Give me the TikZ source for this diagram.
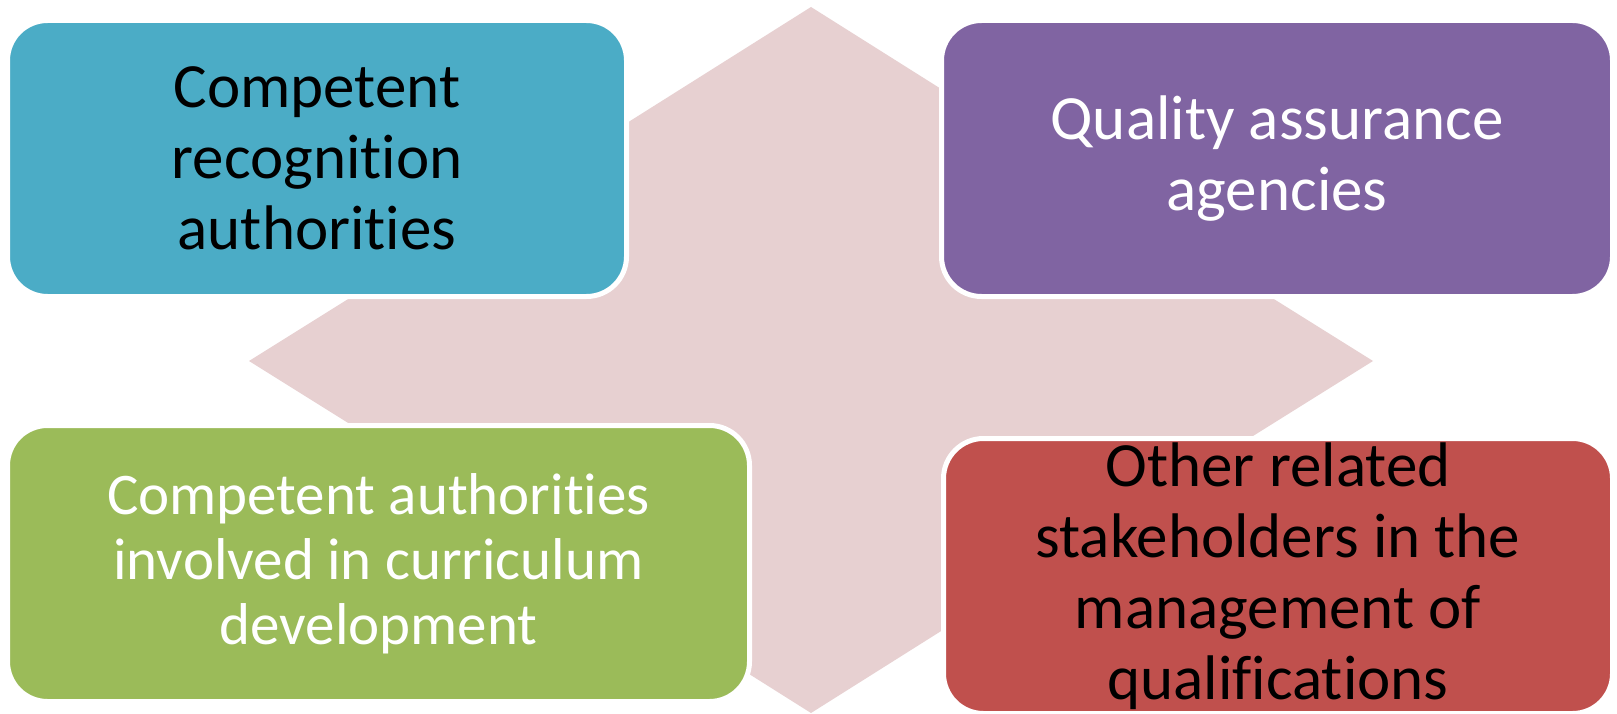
\documentclass[tikz,border=0pt]{standalone}
\usepackage{fontspec}
\setmainfont{Carlito}[RawFeature={-liga;-clig;-dlig;-calt}]
\definecolor{pinkbg}{HTML}{E7D0D1}
\definecolor{cyanbox}{HTML}{4BACC6}
\definecolor{purplebox}{HTML}{8064A2}
\definecolor{greenbox}{HTML}{9BBB59}
\definecolor{redbox}{HTML}{C0504D}
\tikzset{
  card/.style={draw=white, line width=5pt, rounded corners=40pt, inner sep=0pt,
    align=center, font=\fontsize{63}{71}\selectfont},
  smallcard/.style={card, font=\fontsize{59}{65}\selectfont},
  hexa/.style={fill=pinkbg, draw=none}
}
\begin{document}
\begin{tikzpicture}[x=1pt,y=-1pt]
\useasboundingbox[fill=white] (0,0) rectangle (1617,714);
% background cross
\fill[hexa] (811,7) -- (1111,196) -- (1111,524) -- (811,713) -- (511,524) -- (511,196) -- cycle;
\fill[hexa] (249,361) -- (489,211) -- (1133,211) -- (1373,361) -- (1133,511) -- (489,511) -- cycle;
% boxes
\node[card, fill=cyanbox, text=black, minimum width=619pt, minimum height=276pt] (cra) at (317,158.5)
  {Competent\\recognition\\authorities};
\node[card, fill=purplebox, text=white, minimum width=671pt, minimum height=276pt] (qaa) at (1277,158.5)
  {Quality assurance\\agencies};
\node[smallcard, fill=greenbox, text=white, minimum width=742pt, minimum height=276pt] (cac) at (378.5,563.5)
  {Competent authorities\\involved in curriculum\\development};
\node[card, fill=redbox, text=black, minimum width=669pt, minimum height=275pt] (ors) at (1278,576)
  {Other related\\stakeholders in the\\management of\\qualifications};
\end{tikzpicture}
\end{document}
